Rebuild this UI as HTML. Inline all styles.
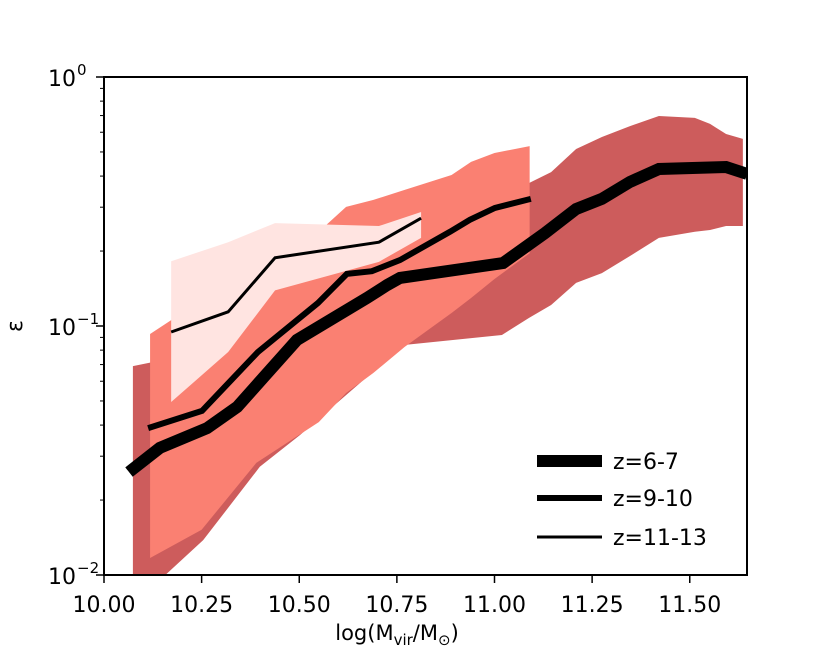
<!DOCTYPE html>
<html><head><meta charset="utf-8"><style>
body{margin:0;background:#fff;}
svg{display:block;font-family:"DejaVu Sans","Liberation Sans",sans-serif;}
</style></head><body>
<svg id="chart" width="830" height="646" xmlns="http://www.w3.org/2000/svg">
<defs><clipPath id="clip"><rect x="104" y="77" width="643" height="498"/></clipPath></defs>
<g id="bands" clip-path="url(#clip)"></g>
<g id="lines" clip-path="url(#clip)"></g>
<g id="axes"></g>
<text x="22" y="326" font-size="22" text-anchor="middle" transform="rotate(-90 22 326)">ε</text>
<text x="397" y="640" font-size="21" text-anchor="middle">log(M<tspan font-size="15" dy="5">vir</tspan><tspan dy="-5">/M</tspan><tspan font-size="15" dy="5">⊙</tspan><tspan dy="-5">)</tspan></text>
<g>
<line x1="537" y1="461" x2="602" y2="461" stroke="#000" stroke-width="12"/>
<text x="613" y="469" font-size="22">z=6-7</text>
<line x1="537" y1="498" x2="602" y2="498" stroke="#000" stroke-width="6"/>
<text x="613" y="506" font-size="22">z=9-10</text>
<line x1="537" y1="537" x2="602" y2="537" stroke="#000" stroke-width="3"/>
<text x="613" y="545" font-size="22">z=11-13</text>
</g>
</svg>
<script>
const xTicks=[10.00,10.25,10.50,10.75,11.00,11.25,11.50];
const xTickLabels=["10.00","10.25","10.50","10.75","11.00","11.25","11.50"];
// z=6-7 band
const bandAx=[10.074,10.151,10.254,10.399,10.502,10.768,11.019,11.088,11.145,11.209,11.275,11.347,11.421,11.513,11.552,11.593,11.636];
const bandAhi=[0.069,0.073,0.0839,0.1107,0.1395,0.202,0.336,0.375,0.415,0.514,0.574,0.635,0.697,0.685,0.648,0.590,0.564];
const bandAlo=[0.0098,0.0098,0.0138,0.0272,0.0365,0.0839,0.092,0.1077,0.1214,0.149,0.163,0.191,0.226,0.239,0.243,0.252,0.252];
// z=9-10 band
const bandBx=[10.118,10.25,10.39,10.55,10.62,10.69,10.77,10.89,10.94,11.00,11.09];
const bandBhi=[0.0929,0.127,0.176,0.239,0.301,0.321,0.352,0.404,0.456,0.495,0.528];
const bandBlo=[0.0117,0.0152,0.0282,0.0411,0.0538,0.0648,0.0824,0.1128,0.1296,0.1545,0.196];
// z=11-13 band
const bandCx=[10.172,10.318,10.438,10.704,10.812];
const bandChi=[0.182,0.217,0.259,0.252,0.287];
const bandClo=[0.0495,0.0786,0.139,0.181,0.226];
// lines
const lineAx=[10.064,10.143,10.264,10.341,10.494,10.673,10.725,10.758,11.022,11.129,11.209,11.275,11.347,11.421,11.593,11.647];
const lineAy=[0.0259,0.0324,0.0389,0.0473,0.0879,0.1295,0.146,0.156,0.179,0.236,0.295,0.324,0.379,0.427,0.435,0.408];
const lineBx=[10.113,10.251,10.394,10.548,10.622,10.686,10.758,10.886,10.937,11.001,11.093];
const lineBy=[0.0389,0.0456,0.0786,0.1237,0.162,0.166,0.184,0.239,0.267,0.298,0.324];
const lineCx=[10.172,10.318,10.438,10.704,10.812];
const lineCy=[0.0946,0.114,0.188,0.217,0.271];

const NS="http://www.w3.org/2000/svg";
function X(v){return 104+(v-10)*390.5;}
function Y(e){return 77-Math.log10(e)*249;}
function mk(tag,attrs,parent){const el=document.createElementNS(NS,tag);for(const k in attrs)el.setAttribute(k,attrs[k]);parent.appendChild(el);return el;}
const bands=document.getElementById('bands'),lines=document.getElementById('lines'),axes=document.getElementById('axes');
function band(xs,hi,lo,color,name){
  let pts=xs.map((x,i)=>X(x)+','+Y(hi[i]));
  for(let i=xs.length-1;i>=0;i--)pts.push(X(xs[i])+','+Y(lo[i]));
  const p=mk('polygon',{points:pts.join(' '),fill:color},bands);
  
  
}
band(bandAx,bandAhi,bandAlo,'#cd5c5c','band-z6-7');
band(bandBx,bandBhi,bandBlo,'#fa8072','band-z9-10');
band(bandCx,bandChi,bandClo,'#ffe4e1','band-z11-13');
function line(xs,ys,w,name){
  const p=mk('polyline',{points:xs.map((x,i)=>X(x)+','+Y(ys[i])).join(' '),fill:'none',stroke:'#000','stroke-width':w,'stroke-linejoin':'miter'},lines);
  
  
}
line(lineAx,lineAy,12,'line-z6-7');
line(lineBx,lineBy,6,'line-z9-10');
line(lineCx,lineCy,3,'line-z11-13');
const fr=mk('rect',{x:104,y:77,width:643,height:498,fill:'none',stroke:'#000','stroke-width':2},axes);


xTicks.forEach((t,i)=>{
  const tk=mk('line',{x1:X(t),x2:X(t),y1:575,y2:583,stroke:'#000','stroke-width':1.5},axes);
  
  
  const tx=mk('text',{x:X(t),y:612,'font-size':22,'text-anchor':'middle'},axes);
  tx.textContent=xTickLabels[i];
  
  
});
[-2,-1,0].forEach(p=>{
  const y=Y(Math.pow(10,p));
  const tk=mk('line',{x1:96,x2:104,y1:y,y2:y,stroke:'#000','stroke-width':1.5},axes);
  
  
  const tx=mk('text',{x:76,y:y+9,'font-size':22,'text-anchor':'end'},axes);
  tx.textContent='10';
  
  
  const sp=mk('text',{x:77,y:y-2,'font-size':15},axes);
  sp.textContent=p===0?'0':'−'+(-p);
  
  
});
[-2,-1].forEach(p=>{
  for(let m=2;m<=9;m++){
    const y=Y(m*Math.pow(10,p));
    const tk=mk('line',{x1:100,x2:104,y1:y,y2:y,stroke:'#000','stroke-width':1},axes);
    
    
  }
});
</script>
</body></html>
